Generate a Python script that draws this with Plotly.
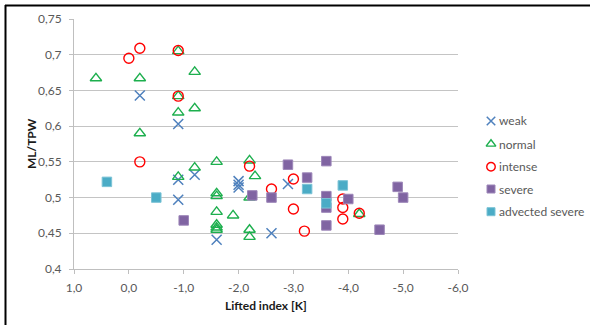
import plotly.graph_objects as go

# Lifted index [K] vs ML/TPW, grouped by event class
weak_x = [-0.2, -0.9, -0.9, -0.9, -1.2, -1.6, -2.0, -2.0, -2.0, -2.6, -2.9]
weak_y = [0.643, 0.603, 0.525, 0.497, 0.532, 0.441, 0.523, 0.518, 0.514, 0.450, 0.519]

normal_x = [0.6, -0.2, -0.2, -0.9, -0.9, -0.9, -0.9, -1.2, -1.2, -1.2, -1.6, -1.6,
            -1.6, -1.6, -1.6, -1.6, -1.6, -1.9, -2.2, -2.3, -2.2, -2.2, -2.2, -4.2]
normal_y = [0.667, 0.667, 0.590, 0.705, 0.642, 0.619, 0.529, 0.676, 0.625, 0.542, 0.550, 0.506,
            0.502, 0.480, 0.462, 0.458, 0.455, 0.475, 0.552, 0.530, 0.500, 0.455, 0.445, 0.477]

intense_x = [0.0, -0.2, -0.9, -0.9, -0.2, -2.2, -2.6, -3.0, -3.0, -3.2, -3.9, -3.9, -3.9, -4.2]
intense_y = [0.695, 0.709, 0.706, 0.642, 0.550, 0.544, 0.512, 0.526, 0.484, 0.453, 0.498, 0.486, 0.470, 0.478]

severe_x = [-1.0, -2.25, -2.6, -2.9, -3.25, -3.6, -3.6, -3.6, -3.6, -4.0, -4.57, -4.9, -5.0]
severe_y = [0.468, 0.503, 0.500, 0.546, 0.528, 0.551, 0.502, 0.486, 0.461, 0.498, 0.455, 0.515, 0.500]

advected_x = [0.4, -0.5, -3.25, -3.6, -3.9]
advected_y = [0.522, 0.500, 0.512, 0.492, 0.517]

series_names = ["weak", "normal", "intense", "severe", "advected severe"]

x_ticks = [1, 0, -1, -2, -3, -4, -5, -6]
x_ticktext = ["1,0", "0,0", "-1,0", "-2,0", "-3,0", "-4,0", "-5,0", "-6,0"]
y_ticks = [0.40, 0.45, 0.50, 0.55, 0.60, 0.65, 0.70, 0.75]
y_ticktext = ["0,4", "0,45", "0,5", "0,55", "0,6", "0,65", "0,7", "0,75"]

W, H = 590, 325
FONT = "Lato"
GREY = "#595959"

styles = [
    dict(symbol="x-thin-open", size=10, color="#4F81BD", line=dict(width=1.5, color="#4F81BD")),
    dict(symbol="triangle-up-open", size=10, color="#1DAF4E", line=dict(width=1.4, color="#1DAF4E")),
    dict(symbol="circle-open", size=10, color="#FF0000", line=dict(width=1.4, color="#FF0000")),
    dict(symbol="square", size=9.5, color="#8064A2", line=dict(width=1, color="#9C86B8")),
    dict(symbol="square", size=9.5, color="#4BACC6", line=dict(width=1, color="#7CC3D6")),
]
data = [(weak_x, weak_y), (normal_x, normal_y), (intense_x, intense_y),
        (severe_x, severe_y), (advected_x, advected_y)]

fig = go.Figure()
for name, (xs, ys), st in zip(series_names, data, styles):
    fig.add_trace(go.Scatter(x=xs, y=ys, mode="markers", name=name, marker=st,
                             showlegend=False, xaxis="x", yaxis="y"))

# Legend drawn on a full-page pixel overlay
leg_y = [121, 144, 166.7, 189, 211.7]
for name, st, ly in zip(series_names, styles, leg_y):
    s = dict(st)
    s["size"] = st["size"] - 1.5
    fig.add_trace(go.Scatter(x=[491], y=[ly], mode="markers", marker=s,
                             showlegend=False, xaxis="x2", yaxis="y2", hoverinfo="skip"))
    fig.add_annotation(x=497 / W, y=1 - ly / H, xref="paper", yref="paper",
                       text=name, showarrow=False, xanchor="left", yanchor="middle",
                       font=dict(family=FONT, size=12, color=GREY))

x0, x1 = 74, 458
y0, y1 = 19, 269

fig.update_layout(
    width=W, height=H,
    margin=dict(l=0, r=0, t=0, b=0, pad=0),
    paper_bgcolor="white", plot_bgcolor="rgba(0,0,0,0)",
    font=dict(family=FONT, size=12, color=GREY),
    xaxis=dict(domain=[x0 / W, x1 / W], range=[1, -6], tickvals=x_ticks, ticktext=x_ticktext,
               showgrid=False, zeroline=False, showline=True, linecolor="#BFBFBF", linewidth=1,
               ticks="outside", ticklen=4, tickcolor="#BFBFBF", automargin=False,
               ticklabelstandoff=4,
               tickfont=dict(family=FONT, size=12, color=GREY)),
    yaxis=dict(domain=[1 - y1 / H, 1 - y0 / H], range=[0.4, 0.75], tickvals=y_ticks, ticktext=y_ticktext,
               showgrid=True, gridcolor="#C4C4C4", gridwidth=1, zeroline=False,
               showline=True, linecolor="#BFBFBF", linewidth=1, automargin=False,
               ticks="outside", ticklen=4, tickcolor="#BFBFBF", ticklabelstandoff=5,
               tickfont=dict(family=FONT, size=12, color=GREY)),
    xaxis2=dict(domain=[0, 1], range=[0, W], visible=False, anchor="y2", automargin=False),
    yaxis2=dict(domain=[0, 1], range=[H, 0], visible=False, anchor="x2", automargin=False),
)

# Axis titles
fig.add_annotation(x=31 / W, y=1 - 144 / H, xref="paper", yref="paper", text="<b>ML/TPW</b>",
                   textangle=-90, showarrow=False, xanchor="center", yanchor="middle",
                   font=dict(family=FONT, size=12, color="#1A1A1A"))
fig.add_annotation(x=266 / W, y=1 - 305 / H, xref="paper", yref="paper", text="<b>Lifted index [K]</b>",
                   showarrow=False, xanchor="center", yanchor="middle",
                   font=dict(family=FONT, size=12, color="#1A1A1A"))

# Outer frame (top and left edges)
fig.add_shape(type="line", xref="paper", yref="paper", x0=5 / W, x1=1, y0=1 - 5.5 / H, y1=1 - 5.5 / H,
              line=dict(color="black", width=2))
fig.add_shape(type="line", xref="paper", yref="paper", x0=5.5 / W, x1=5.5 / W, y0=0, y1=1 - 5 / H,
              line=dict(color="black", width=2))

# Page body without default margins so the figure sits at the window origin
fig.write_html("out.html", post_script="document.body.style.margin='0';document.body.style.overflow='hidden';")
